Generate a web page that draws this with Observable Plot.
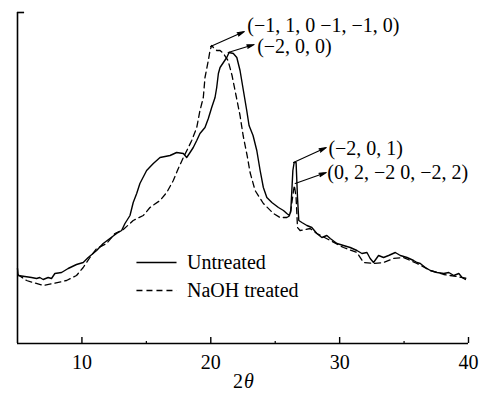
<!DOCTYPE html>
<html><head><meta charset="utf-8">
<script src="https://cdn.jsdelivr.net/npm/d3@7"></script>
<script src="https://cdn.jsdelivr.net/npm/@observablehq/plot@0.6"></script>
<style>body{margin:0;background:#fff}</style>
</head><body><div id="chart"></div>
<script>
const untreatedTheta = [5.00,5.05,5.57,6.09,6.48,6.73,6.99,7.38,7.64,7.90,8.42,8.93,9.58,10.10,10.49,11.14,11.65,12.17,12.69,13.08,13.34,13.73,13.98,14.25,14.50,15.02,15.54,16.06,16.84,17.35,17.87,18.13,18.39,18.64,18.91,19.16,19.55,19.81,20.07,20.33,20.46,20.59,20.72,20.98,21.24,21.42,21.75,22.02,22.27,22.53,22.79,22.97,23.28,23.57,23.83,24.08,24.35,24.74,25.25,25.64,25.90,26.10,26.21,26.37,26.47,26.62,26.73,26.83,27.07,27.46,27.84,28.23,28.62,29.01,29.27,29.79,30.30,30.82,31.34,31.73,32.12,32.37,32.63,33.02,33.41,33.80,34.32,34.71,35.23,35.74,36.00,36.26,36.65,37.04,37.56,38.08,38.47,38.86,39.25,39.50,39.76];
const untreatedIntensity = [75,68,67,66,65,66,64,66,65,70,71,75,79,81,86,93,100,105,110,113,120,128,141,150,160,173,180,186,188,191,190,186,191,196,203,210,216,225,236,246,256,270,276,281,286,291,290,286,273,253,233,218,208,193,173,156,146,141,136,133,130,128,133,173,181,181,146,123,121,118,116,110,106,108,105,100,98,96,93,90,91,85,81,88,86,88,91,88,86,83,81,80,76,73,71,70,71,68,70,66,64];
const naohTheta = [5.02,5.70,6.21,6.99,7.77,8.81,9.58,10.10,10.62,11.14,11.92,12.56,13.21,13.98,14.76,15.28,16.06,16.58,17.09,17.48,17.87,18.26,18.52,18.91,19.16,19.42,19.55,19.81,19.94,20.07,20.20,20.46,20.72,20.98,21.34,21.65,21.96,22.27,22.51,22.82,23.05,23.44,24.08,24.86,25.38,25.90,26.16,26.42,26.49,26.62,26.73,26.93,27.71,28.23,29.27,30.30,31.34,31.85,32.63,33.41,34.18,34.96,36.00,37.04,38.08,39.06,39.90];
const naohIntensity = [69,63,61,58,60,63,68,76,86,95,100,110,114,123,128,136,143,151,163,175,186,196,203,216,233,246,266,283,293,298,296,293,293,290,283,268,248,228,208,188,171,153,140,130,126,126,128,153,158,146,116,113,115,110,103,96,91,81,80,81,85,86,80,73,69,67,65];
const xTicks = [10, 20, 30, 40];
const xMinorTicks = [15, 25, 35];
const seriesNames = ["Untreated", "NaOH treated"];
const peakLabels = ["(\u22121, 1, 0 \u22121, \u22121, 0)", "(\u22122, 0, 0)", "(\u22122, 0, 1)", "(0, 2, \u22122 0, \u22122, 2)"];
const peakX1 = [19.98, 21.35, 26.42, 26.55];
const peakY1 = [297, 291, 181, 160];
const peakX2 = [22.6, 23.36, 28.96, 28.96];
const peakY2 = [312, 299, 196, 171];
const labelX = [22.83, 23.6, 29.13, 29.04];
const labelY = [318, 297, 195, 171];
const legendX1 = 14.27, legendX2 = 17.38, legendTextX = 18.15;
const legendY = [81, 53];

const untreated = untreatedTheta.map((t, i) => ({theta: t, intensity: untreatedIntensity[i]}));
const naoh = naohTheta.map((t, i) => ({theta: t, intensity: naohIntensity[i]}));
const peaks = peakLabels.map((l, i) => ({label: l, x1: peakX1[i], y1: peakY1[i], x2: peakX2[i], y2: peakY2[i], lx: labelX[i], ly: labelY[i]}));
const legend = seriesNames.map((n, i) => ({name: n, y: legendY[i]}));

const chart = Plot.plot({
  width: 482,
  height: 396,
  marginLeft: 17,
  marginRight: 14,
  marginTop: 12,
  marginBottom: 53,
  style: {fontFamily: "Liberation Serif", fontSize: "20px", background: "#fff", color: "#000"},
  x: {domain: [5, 40]},
  y: {domain: [0, 331], axis: null},
  marks: [
    Plot.ruleY([0], {x1: 5, x2: 40, stroke: "black", strokeWidth: 1.6}),
    Plot.ruleX([5], {y1: 0, y2: 331, stroke: "black", strokeWidth: 1.6}),
    Plot.ruleY([331], {x1: 5, x2: 5.55, stroke: "black", strokeWidth: 1.6}),
    Plot.ruleX(xTicks, {y1: 0, y2: 6, stroke: "black", strokeWidth: 1.4}),
    Plot.ruleX(xMinorTicks, {y1: 0, y2: 2, stroke: "black", strokeWidth: 1.2}),
    Plot.axisX(xTicks, {tickSize: 0, tickPadding: 11, fontSize: 20, label: null}),
    Plot.text(["2"], {frameAnchor: "bottom", lineAnchor: "middle", dy: 38, textAnchor: "end", fontSize: 20}),
    Plot.text(["\u03B8"], {frameAnchor: "bottom", lineAnchor: "middle", dy: 38, dx: 1, textAnchor: "start", fontSize: 20, fontStyle: "italic"}),
    Plot.line(naoh, {x: "theta", y: "intensity", stroke: "black", strokeWidth: 1.3, strokeDasharray: "6,4"}),
    Plot.line(untreated, {x: "theta", y: "intensity", stroke: "black", strokeWidth: 1.4}),
    Plot.arrow(peaks, {x1: "x1", y1: "y1", x2: "x2", y2: "y2", stroke: "black", fill: "black", strokeWidth: 1.1, headLength: 10, headAngle: 28}),
    Plot.text(peaks, {x: "lx", y: "ly", text: "label", textAnchor: "start", fontSize: 20}),
    Plot.ruleY([legend[0]], {y: "y", x1: legendX1, x2: legendX2, stroke: "black", strokeWidth: 1.4}),
    Plot.ruleY([legend[1]], {y: "y", x1: legendX1, x2: legendX2, stroke: "black", strokeWidth: 1.4, strokeDasharray: "6,4"}),
    Plot.text(legend, {x: legendTextX, y: "y", text: "name", textAnchor: "start", fontSize: 20})
  ]
});
document.getElementById("chart").appendChild(chart);
</script>
</body></html>
